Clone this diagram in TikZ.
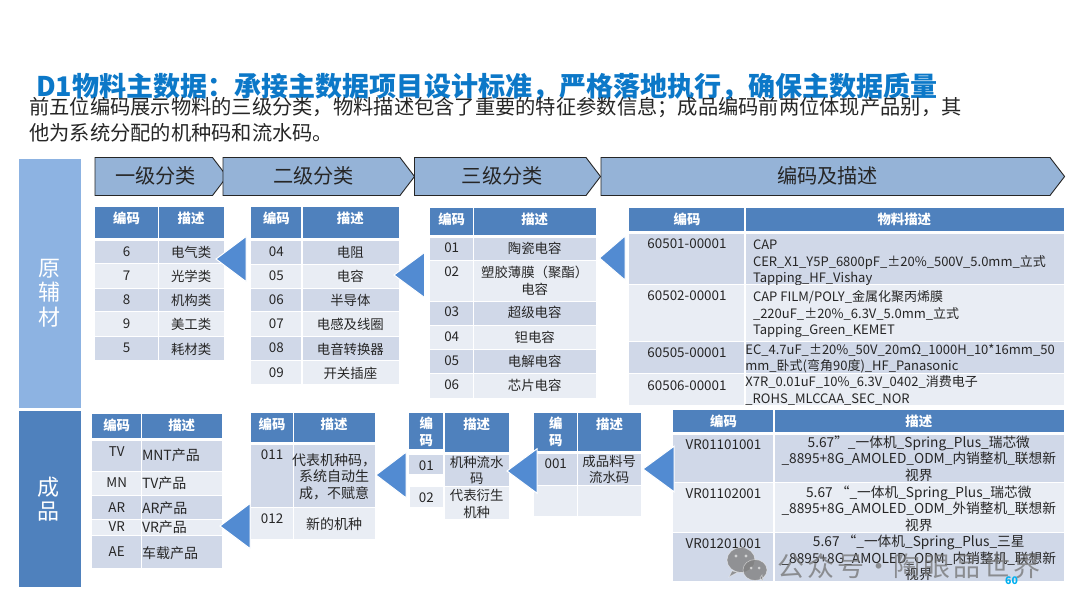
\documentclass[tikz,border=0pt]{standalone}
\usepackage{fontspec}
\setmainfont{Noto Sans CJK SC}
\usetikzlibrary{calc}
\definecolor{hdr}{HTML}{4F81BD}
\definecolor{rowa}{HTML}{D0D8E8}
\definecolor{rowb}{HTML}{E9EDF4}
\definecolor{chev}{HTML}{95B3D7}
\definecolor{sideb}{HTML}{8DB3E2}
\definecolor{tri}{HTML}{528BD2}
\definecolor{ttl}{HTML}{0C78C8}
\definecolor{ink}{HTML}{262626}
\definecolor{pgnum}{HTML}{00B0F0}
\def\fsb{13.4}
\tikzset{
  cellbox/.style={draw=none,inner sep=0pt,outer sep=0pt,rectangle},
  hd/.style={cellbox,fill=hdr},
  ra/.style={cellbox,fill=rowa},
  rb/.style={cellbox,fill=rowb},
  txt/.style={inner sep=0pt,outer sep=0pt,text=ink,align=center,font=\fontsize{13.4}{16.6}\selectfont},
  txtb/.style={txt,font=\fontsize{\fsb}{16.6}\selectfont},
  ltxt/.style={txtb,align=left,anchor=west},
  htxt/.style={txt,text=white,font=\fontsize{13.4}{16.6}\selectfont\bfseries},
  chevtxt/.style={inner sep=0pt,text=ink,font=\fontsize{20.2}{24}\selectfont},
  chevron/.style={draw=black!85,line width=0.9pt,fill=chev},
  sidetxt/.style={inner sep=0pt,text=white,align=center,font=\fontsize{22}{24.6}\selectfont},
  arrowtri/.style={fill=tri,draw=white,line width=1pt},
  wmtxt/.style={inner sep=0pt,text=black!55,text opacity=0.75,font=\fontsize{27}{30}\selectfont},
  wmbubble/.style={fill=black!50,fill opacity=0.8,draw=white,draw opacity=0.5,line width=0.6pt},
  wmeye/.style={fill=white,fill opacity=0.6},
}
% generic box
\newcommand\cellb[6]{%
  \pgfmathsetmacro\cw{#4-#2}\pgfmathsetmacro\ch{#5-#3}%
  \node[#6,minimum width=\cw pt,minimum height=\ch pt] (#1) at ({(#2+#4)/2},{(#3+#5)/2}) {};}
\newcommand\tabcols[3]{\def\xa{#1}\def\xm{#2}\def\xb{#3}%
  \pgfmathsetmacro\xma{#2-0.7}\pgfmathsetmacro\xmb{#2+0.7}}
\def\tstyle{txt}
\def\tstyleb{txtb}
% name y0 y1 style ty1 t1 ty2 t2
\newcommand\trow[8]{%
  \cellb{#1a}{\xa}{#2}{\xma}{#3}{#4}\cellb{#1b}{\xmb}{#2}{\xb}{#3}{#4}%
  \node[\tstyle] (#1at) at ({(\xa+\xm)/2},#5) {#6};
  \node[\tstyleb] (#1bt) at ({(\xm+\xb)/2},#7) {#8};}
\newcommand\lrow[8]{%
  \cellb{#1a}{\xa}{#2}{\xma}{#3}{#4}\cellb{#1b}{\xmb}{#2}{\xb}{#3}{#4}%
  \node[txt] (#1at) at ({(\xa+\xm)/2},#5) {#6};
  \node[ltxt] (#1bt) at (\xl,#7) {#8};}
\newcommand\hrow[6]{{\def\tstyle{htxt}\def\tstyleb{htxt}\trow{#1}{#2}{#3}{hd}{#4}{编码}{#5}{#6}}}
\newcommand\chevbox[5]{%
  \path[chevron,draw,name=#1] (#2,157.5) -- (#3,157.5) -- (#4,176.5) -- (#3,195.5) -- (#2,195.5) -- cycle;
  \node[chevtxt] (#1t) at ({(#2+#3)/2+2},176) {#5};}
\newcommand\triang[5]{%
  \coordinate (#1tip) at (#2,#3);
  \coordinate (#1up) at (#4,{#3-#5});
  \coordinate (#1dn) at (#4,{#3+#5});
  \draw[arrowtri] (#1tip) -- (#1up) -- (#1dn) -- cycle;}
\begin{document}
\begin{tikzpicture}[x=1pt,y=-1pt]
\useasboundingbox (0,0) rectangle (1080,608);
\fill[white] (0,0) rectangle (1080,608);
% title
\node[anchor=west,inner sep=0pt,text=ttl,font=\fontsize{27.05}{30}\selectfont\bfseries] (title) at (36,87) {D1物料主数据：承接主数据项目设计标准，严格落地执行，确保主数据质量};
\node[anchor=north west,inner sep=0pt,align=left,text=ink,font=\fontsize{20.27}{26}\selectfont] (sub) at (29,97) {前五位编码展示物料的三级分类，物料描述包含了重要的特征参数信息；成品编码前两位体现产品别，其\\他为系统分配的机种码和流水码。};
% side bars
\cellb{sideA}{19}{159}{81}{408}{cellbox,fill=sideb}
\node[sidetxt] (sideAt) at (49,293) {原\\辅\\材};
\cellb{sideB}{19}{411}{81}{587}{cellbox,fill=hdr}
\node[sidetxt] (sideBt) at (48,499) {成\\品};
% chevrons
\chevbox{c1}{95}{212.5}{227}{一级分类}
\chevbox{c2}{223}{400}{414.5}{二级分类}
\chevbox{c3}{414.5}{586}{600.5}{三级分类}
\chevbox{c4}{601}{1050}{1064.6}{编码及描述}
% table 1
\tabcols{94.6}{158.6}{223.6}
\hrow{ta0}{207}{237.5}{218}{218}{描述}
\trow{ta1}{241}{263}{ra}{252}{6}{252}{电气类}
\trow{ta2}{264}{287.5}{rb}{275.5}{7}{276}{光学类}
\trow{ta3}{288.5}{311}{ra}{299.5}{8}{300}{机构类}
\trow{ta4}{312}{336}{rb}{323.5}{9}{324.5}{美工类}
\trow{ta5}{337}{360}{ra}{348}{5}{349}{耗材类}
% table 2
\tabcols{250.8}{302}{398.7}
\hrow{tb0}{207}{237.5}{218}{218}{描述}
\trow{tb1}{241}{263.5}{ra}{251.5}{04}{252}{电阻}
\trow{tb2}{264.5}{287.5}{rb}{275.5}{05}{276}{电容}
\trow{tb3}{288.5}{311}{ra}{299.5}{06}{300}{半导体}
\trow{tb4}{312}{336}{rb}{323.5}{07}{324.5}{电感及线圈}
\trow{tb5}{337}{360}{ra}{348}{08}{349}{电音转换器}
\trow{tb6}{361}{384}{rb}{372.5}{09}{373.5}{开关插座}
% table 3
\tabcols{429.7}{473.7}{595.7}
\hrow{tc0}{208}{234.5}{219}{219}{描述}
\trow{tc1}{238}{259.5}{ra}{247.5}{01}{248}{陶瓷电容}
\trow{tc2}{260.5}{301}{rb}{272}{02}{281}{塑胶薄膜（聚酯）\\电容}
\trow{tc3}{302}{324.5}{ra}{312}{03}{312.5}{超级电容}
\trow{tc4}{325.5}{349}{rb}{337}{04}{337}{钽电容}
\trow{tc5}{350}{372.5}{ra}{360.5}{05}{361}{电解电容}
\trow{tc6}{374}{397.5}{rb}{385}{06}{385}{芯片电容}
% table 4
\tabcols{629}{745}{1063.6}
\hrow{td0}{208}{231}{219}{219}{物料描述}
\def\fsb{13}
\def\xl{753}
\lrow{td1}{234}{284}{ra}{244}{60501-00001}{263}{CAP\\CER\_X1\_Y5P\_6800pF\_±20\%\_500V\_5.0mm\_立式\\Tapping\_HF\_Vishay}
\lrow{td2}{285}{341}{rb}{296}{60502-00001}{314.5}{CAP FILM/POLY\_金属化聚丙烯膜\\\_220uF\_±20\%\_6.3V\_5.0mm\_立式\\Tapping\_Green\_KEMET}
\def\xl{745.4}
\lrow{td3}{342}{373}{ra}{353}{60505-00001}{358.5}{EC\_4.7uF\_±20\%\_50V\_20mΩ\_1000H\_10*16mm\_50\\mm\_卧式(弯角90度)\_HF\_Panasonic}
\lrow{td4}{374}{405}{rb}{386}{60506-00001}{390.5}{X7R\_0.01uF\_10\%\_6.3V\_0402\_消费电子\\\_ROHS\_MLCCAA\_SEC\_NOR}
% table 5
\tabcols{92}{141.4}{222}
\hrow{te0}{413.7}{438}{425}{425}{描述}
\def\fsb{14}
\def\xl{142}
\lrow{te1}{441}{470.6}{ra}{452}{TV}{455.6}{MNT产品}
\lrow{te2}{471.6}{495}{rb}{482.6}{MN}{483}{TV产品}
\lrow{te3}{496}{518.5}{ra}{507.6}{AR}{508}{AR产品}
\lrow{te4}{519.5}{535}{rb}{527}{VR}{527.5}{VR产品}
\lrow{te5}{536}{568}{ra}{552}{AE}{553}{车载产品}
% table 6
\tabcols{250.8}{293.4}{374.6}
\hrow{tf0}{412.7}{442}{424}{424}{描述}
\trow{tf1}{445}{507}{ra}{455}{011}{476.6}{代表机种码，\\系统自动生\\成，不赋意}
\trow{tf2}{508}{538.5}{rb}{519}{012}{524}{新的机种}
\def\fsb{13.4}
% table 7
\cellb{tg0a}{409}{412.7}{443.1}{449}{hd}
\cellb{tg0b}{444.5}{413}{509}{451.6}{hd}
\node[htxt] (tg0at) at (426.4,432) {编\\码};
\node[htxt] (tg0bt) at (476.7,424) {描述};
\cellb{tg1a}{409}{455}{443.1}{473.6}{ra}
\cellb{tg1b}{444.5}{455}{509}{486}{ra}
\node[txt] (tg1at) at (426.4,465.6) {01};
\node[txt] (tg1bt) at (476.7,470.3) {机种流水\\码};
\cellb{tg2a}{409.5}{487}{443.1}{506.6}{rb}
\cellb{tg2b}{444.5}{486.6}{509}{518.5}{rb}
\node[txt] (tg2at) at (426.4,498) {02};
\node[txt] (tg2bt) at (476.7,504) {代表衍生\\机种};
% table 8
\tabcols{534}{577.5}{641}
\cellb{th0a}{534}{412.7}{576.8}{451}{hd}
\cellb{th0b}{578.2}{412.7}{641}{451}{hd}
\node[htxt] (th0at) at (555.7,432) {编\\码};
\node[htxt] (th0bt) at (609.6,424) {描述};
\trow{th1}{454}{485}{ra}{464}{001}{469.5}{成品料号\\流水码}
\trow{th2}{486}{515.6}{rb}{500}{}{500}{}
% table 9
\tabcols{673}{774}{1063.6}
\hrow{ti0}{409.7}{432}{421}{421}{描述}
\def\fsb{13.7}
\trow{ti1}{435}{481.6}{ra}{445}{VR01101001}{458.6}{5.67"\_一体机\_Spring\_Plus\_瑞芯微\\\_8895+8G\_AMOLED\_ODM\_内销整机\_联想新\\视界}
\trow{ti2}{482.6}{532}{rb}{494}{VR01102001}{508.6}{5.67 “\_一体机\_Spring\_Plus\_瑞芯微\\\_8895+8G\_AMOLED\_ODM\_外销整机\_联想新\\视界}
\trow{ti3}{533}{581}{ra}{544}{VR01201001}{558}{5.67 “\_一体机\_Spring\_Plus\_三星\\\_8895+8G\_AMOLED\_ODM\_内销整机\_联想新\\视界}
% arrow triangles
\triang{A}{216}{259}{246}{22.5}
\triang{B}{394}{275}{424.5}{22.5}
\triang{C}{599.5}{258}{625}{22}
\triang{D}{220}{526}{250}{22.5}
\triang{E}{376}{475}{406}{22.8}
\triang{F}{507}{471}{537}{22.2}
\triang{G}{643}{469}{674}{22.7}
% watermark
\fill[wmbubble] (741,560) ellipse [x radius=14,y radius=12.5];
\fill[wmbubble] (732,571) -- (729,577) -- (738,572) -- cycle;
\fill[wmeye] (736,556) circle (1.7) (746,556) circle (1.7);
\fill[wmbubble] (755,570) ellipse [x radius=12,y radius=10.5];
\fill[wmbubble] (760,578) -- (763,581) -- (762,575) -- cycle;
\fill[wmeye] (751,568) circle (1.5) (759,568) circle (1.5);
\node[wmtxt,anchor=west] (wm) at (777,566) {公\hspace{3pt}众\hspace{3pt}号\hspace{1pt}·\hspace{1pt}陶\hspace{3pt}眼\hspace{3pt}品\hspace{3pt}世\hspace{3pt}界};
% page number
\node[inner sep=0pt,text=pgnum,font=\fontsize{10.5}{12}\selectfont\bfseries] (pg) at (1011.5,581) {60};
\end{tikzpicture}
\end{document}
